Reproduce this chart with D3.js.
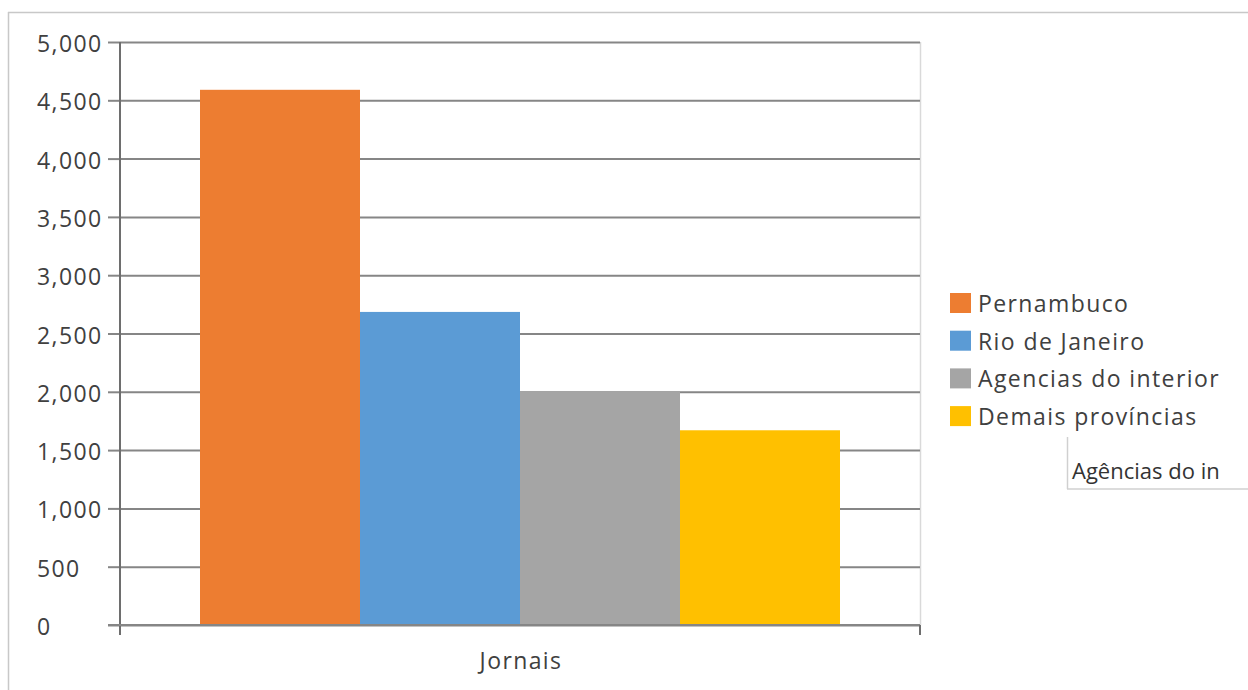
<!DOCTYPE html>
<html><head><meta charset="utf-8">
<script src="https://cdn.jsdelivr.net/npm/d3@7"></script>
<style>body{margin:0;background:#fff;} text{font-family:"Open Sans",sans-serif;}</style>
</head><body>
<svg id="c" width="1248" height="690"></svg>
<script>
const categories = ["Jornais"];
const seriesNames = ["Pernambuco","Rio de Janeiro","Agencias do interior","Demais províncias"];
const seriesValues = [4590, 2685, 2005, 1670];
const seriesColors = ["#ED7D31","#5B9BD5","#A5A5A5","#FFC000"];
const yTicks = [0,500,1000,1500,2000,2500,3000,3500,4000,4500,5000];
const tooltipText = "Agências do in";

const svg = d3.select("#c");
// outer frame
svg.append("line").attr("x1",8).attr("x2",1248).attr("y1",12.5).attr("y2",12.5).attr("stroke","#c8c8c8").attr("stroke-width",1.5);
svg.append("line").attr("x1",8.5).attr("x2",8.5).attr("y1",12).attr("y2",690).attr("stroke","#c8c8c8").attr("stroke-width",1.5);

const L=120, R=920, T=42, B=625;
const y = d3.scaleLinear().domain([0,5000]).range([B,T]);
const x0 = d3.scaleBand().domain(categories).range([L,R]).paddingInner(0).paddingOuter(0.125);
const x1 = d3.scaleBand().domain(seriesNames).range([0,x0.bandwidth()]).padding(0);

// right border of plot
svg.append("line").attr("x1",R+0.5).attr("x2",R+0.5).attr("y1",T).attr("y2",B).attr("stroke","#d9d9d9").attr("stroke-width",1.5);

// gridlines + ticks
const yAxis = svg.append("g").attr("transform",`translate(${L},0)`)
  .call(d3.axisLeft(y).tickValues(yTicks).tickSize(-(R-L)).tickFormat(""));
yAxis.select(".domain").remove();
yAxis.selectAll(".tick line").attr("stroke","#868686").attr("stroke-width",2);
svg.append("g").attr("transform",`translate(${L},0)`)
  .call(d3.axisLeft(y).tickValues(yTicks).tickSize(12).tickFormat(""))
  .call(g=>{g.select(".domain").remove(); g.selectAll(".tick line").attr("stroke","#868686").attr("stroke-width",2);});
// y labels left-aligned
svg.append("g").selectAll("text").data(yTicks).join("text")
  .attr("x",37).attr("y",d=>y(d)+2).attr("dy","0.35em")
  .attr("font-size",23).attr("letter-spacing",1.4).attr("fill","#404040")
  .text(d=>d3.format(",")(d));

// bars
svg.append("g").selectAll("rect").data(seriesNames).join("rect")
  .attr("x",(d)=>x0(categories[0])+x1(d))
  .attr("width",x1.bandwidth())
  .attr("y",(d,i)=>y(seriesValues[i]))
  .attr("height",(d,i)=>B-y(seriesValues[i]))
  .attr("fill",(d,i)=>seriesColors[i]);

// axes lines
svg.append("line").attr("x1",L).attr("x2",L).attr("y1",T).attr("y2",635).attr("stroke","#6e6e6e").attr("stroke-width",2);
svg.append("line").attr("x1",108).attr("x2",R).attr("y1",B).attr("y2",B).attr("stroke","#868686").attr("stroke-width",2);
svg.append("line").attr("x1",R).attr("x2",R).attr("y1",B).attr("y2",635).attr("stroke","#6e6e6e").attr("stroke-width",2);

// x label
svg.append("text").attr("x",x0(categories[0])+x0.bandwidth()/2 + 1).attr("y",661).attr("dy","0.35em")
  .attr("text-anchor","middle").attr("font-size",23).attr("letter-spacing",1.4).attr("fill","#404040").text(categories[0]);

// legend
const lg = svg.append("g").selectAll("g").data(seriesNames).join("g")
  .attr("transform",(d,i)=>`translate(950,${293+i*37.7})`);
lg.append("rect").attr("width",21).attr("height",20).attr("fill",(d,i)=>seriesColors[i]);
lg.append("text").attr("x",28).attr("y",11).attr("dy","0.35em").attr("font-size",23).attr("letter-spacing",1.4).attr("fill","#404040").text(d=>d);

// tooltip fragment
const tt = svg.append("g");
tt.append("line").attr("x1",1067.5).attr("x2",1067.5).attr("y1",437).attr("y2",489).attr("stroke","#d0d0d0").attr("stroke-width",1.5);
tt.append("line").attr("x1",1067).attr("x2",1248).attr("y1",489).attr("y2",489).attr("stroke","#d0d0d0").attr("stroke-width",1.5);
tt.append("text").attr("x",1072).attr("y",471).attr("dy","0.35em").attr("font-size",22).attr("fill","#333").text(tooltipText);
</script>
</body></html>
